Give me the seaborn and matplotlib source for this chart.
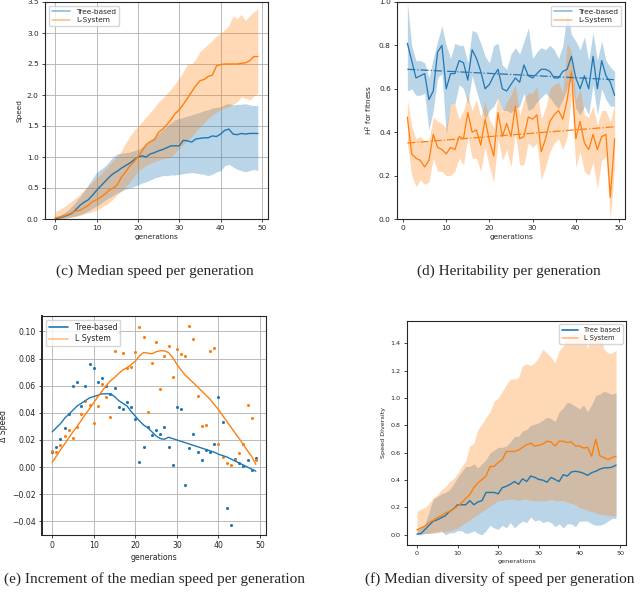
import numpy as np
import pandas as pd
import seaborn as sns
import matplotlib.pyplot as plt
from matplotlib.lines import Line2D

# ---- (c) median speed per generation ----
gens = list(range(50))
tree_speed_med = [0.00, 0.02, 0.04, 0.06, 0.09, 0.15, 0.22, 0.27, 0.31, 0.38, 0.46, 0.53, 0.60, 0.67, 0.73, 0.77,
                  0.82, 0.86, 0.90, 0.95, 1.00, 1.02, 1.00, 1.05, 1.07, 1.10, 1.12, 1.15, 1.18, 1.18, 1.18, 1.27,
                  1.26, 1.24, 1.29, 1.30, 1.31, 1.31, 1.34, 1.33, 1.37, 1.43, 1.45, 1.37, 1.36, 1.38, 1.37, 1.38,
                  1.38, 1.38]
tree_speed_hi = [0.02, 0.05, 0.09, 0.14, 0.20, 0.28, 0.36, 0.45, 0.55, 0.65, 0.75, 0.80, 0.85, 0.92, 1.00, 1.05,
                 1.06, 1.07, 1.08, 1.10, 1.12, 1.16, 1.20, 1.26, 1.32, 1.38, 1.44, 1.50, 1.55, 1.60, 1.62, 1.64,
                 1.66, 1.68, 1.70, 1.72, 1.75, 1.76, 1.79, 1.80, 1.81, 1.85, 1.86, 1.84, 1.85, 1.85, 1.86, 1.84,
                 1.83, 1.83]
tree_speed_lo = [0.00, 0.00, 0.01, 0.02, 0.03, 0.05, 0.07, 0.10, 0.13, 0.17, 0.21, 0.25, 0.30, 0.34, 0.38, 0.42,
                 0.45, 0.48, 0.50, 0.52, 0.55, 0.58, 0.60, 0.63, 0.66, 0.68, 0.70, 0.70, 0.71, 0.71, 0.72, 0.73,
                 0.74, 0.75, 0.74, 0.73, 0.72, 0.70, 0.72, 0.76, 0.78, 0.86, 0.88, 0.84, 0.80, 0.78, 0.76, 0.78,
                 0.80, 0.78]
lsys_speed_med = [0.02, 0.03, 0.05, 0.07, 0.10, 0.13, 0.14, 0.18, 0.22, 0.28, 0.31, 0.35, 0.40, 0.46, 0.50, 0.55,
                  0.67, 0.76, 0.85, 0.92, 1.00, 1.10, 1.20, 1.25, 1.28, 1.40, 1.45, 1.52, 1.60, 1.70, 1.76, 1.85,
                  1.95, 2.05, 2.15, 2.23, 2.25, 2.30, 2.32, 2.47, 2.49, 2.50, 2.50, 2.50, 2.50, 2.51, 2.52, 2.55,
                  2.62, 2.62]
lsys_speed_hi = [0.12, 0.15, 0.19, 0.24, 0.29, 0.34, 0.40, 0.47, 0.53, 0.60, 0.66, 0.72, 0.80, 0.87, 0.94, 1.00,
                 1.10, 1.22, 1.33, 1.42, 1.49, 1.57, 1.65, 1.72, 1.80, 1.89, 1.95, 2.02, 2.10, 2.18, 2.27, 2.38,
                 2.50, 2.50, 2.58, 2.70, 2.76, 2.82, 2.88, 2.95, 3.00, 3.05, 3.12, 3.28, 3.23, 3.30, 3.20, 3.28,
                 3.34, 3.39]
lsys_speed_lo = [0.00, 0.00, 0.01, 0.02, 0.03, 0.04, 0.06, 0.08, 0.10, 0.12, 0.14, 0.18, 0.22, 0.26, 0.32, 0.39,
                 0.45, 0.52, 0.59, 0.68, 0.77, 0.82, 0.87, 0.90, 0.93, 0.95, 0.97, 0.99, 1.00, 1.07, 1.14, 1.20,
                 1.27, 1.33, 1.41, 1.49, 1.55, 1.62, 1.68, 1.72, 1.76, 1.79, 1.81, 1.85, 1.89, 1.97, 1.95, 1.92,
                 1.98, 2.03]

# ---- (d) heritability per generation ----
her_gens = list(range(1, 50))
tree_her = [0.81, 0.73, 0.65, 0.66, 0.67, 0.55, 0.59, 0.77, 0.80, 0.60, 0.67, 0.67, 0.73, 0.72, 0.64, 0.78,
            0.74, 0.68, 0.60, 0.62, 0.66, 0.69, 0.60, 0.59, 0.62, 0.65, 0.63, 0.71, 0.66, 0.65, 0.67, 0.69,
            0.69, 0.68, 0.65, 0.65, 0.68, 0.69, 0.75, 0.65, 0.60, 0.66, 0.60, 0.75, 0.60, 0.73, 0.66, 0.63, 0.57]
tree_her_hi = [1.00, 0.80, 0.73, 0.73, 0.72, 0.65, 0.74, 0.82, 0.89, 0.80, 0.74, 0.81, 0.80, 0.80, 0.72, 0.87,
               0.86, 0.81, 0.75, 0.72, 0.80, 0.81, 0.71, 0.69, 0.76, 0.79, 0.76, 0.82, 0.88, 0.74, 0.77, 0.79,
               0.78, 0.80, 0.78, 0.74, 0.80, 0.95, 0.85, 0.82, 0.78, 0.84, 0.73, 0.86, 0.73, 0.82, 0.73, 0.70, 0.68]
tree_her_lo = [0.59, 0.60, 0.57, 0.57, 0.58, 0.41, 0.50, 0.65, 0.67, 0.39, 0.53, 0.53, 0.62, 0.60, 0.53, 0.66,
               0.59, 0.52, 0.46, 0.50, 0.52, 0.56, 0.50, 0.50, 0.49, 0.51, 0.52, 0.58, 0.50, 0.51, 0.54, 0.56,
               0.58, 0.56, 0.53, 0.51, 0.55, 0.60, 0.65, 0.51, 0.48, 0.52, 0.48, 0.62, 0.48, 0.60, 0.55, 0.52, 0.52]
lsys_her = [0.47, 0.30, 0.28, 0.27, 0.24, 0.27, 0.39, 0.33, 0.32, 0.30, 0.33, 0.32, 0.38, 0.37, 0.49, 0.40,
            0.41, 0.34, 0.46, 0.36, 0.29, 0.49, 0.38, 0.44, 0.38, 0.52, 0.37, 0.38, 0.47, 0.46, 0.48, 0.31,
            0.37, 0.45, 0.48, 0.50, 0.46, 0.55, 0.68, 0.37, 0.45, 0.35, 0.32, 0.39, 0.32, 0.38, 0.39, 0.10, 0.37]
lsys_her_hi = [0.55, 0.43, 0.37, 0.38, 0.36, 0.36, 0.47, 0.45, 0.44, 0.42, 0.53, 0.53, 0.46, 0.50, 0.57, 0.50,
               0.55, 0.47, 0.54, 0.46, 0.42, 0.57, 0.49, 0.54, 0.57, 0.62, 0.48, 0.55, 0.58, 0.58, 0.61, 0.46,
               0.51, 0.60, 0.62, 0.63, 0.58, 0.81, 0.77, 0.55, 0.60, 0.48, 0.47, 0.52, 0.43, 0.50, 0.50, 0.45, 0.53]
lsys_her_lo = [0.35, 0.20, 0.15, 0.18, 0.16, 0.17, 0.28, 0.22, 0.22, 0.20, 0.20, 0.22, 0.28, 0.25, 0.38, 0.28,
               0.28, 0.22, 0.33, 0.24, 0.17, 0.37, 0.27, 0.32, 0.24, 0.40, 0.25, 0.25, 0.35, 0.33, 0.35, 0.18,
               0.24, 0.31, 0.35, 0.37, 0.32, 0.38, 0.57, 0.24, 0.31, 0.22, 0.20, 0.26, 0.14, 0.27, 0.29, 0.00, 0.24]
trend_x = [1, 49]
tree_trend = [0.69, 0.642]
lsys_trend = [0.35, 0.425]

# ---- (e) increment of median speed ----
tree_delta = [0.011, 0.015, 0.021, 0.029, 0.039, 0.060, 0.063, 0.045, 0.060, 0.076, 0.073, 0.063, 0.066, 0.060,
              0.054, 0.0585, 0.044, 0.043, 0.048, 0.044, 0.0356, 0.0035, 0.015, 0.0296, 0.0235, 0.0277, 0.0244,
              0.0296, 0.015, 0.0012, 0.044, 0.0425, -0.013, 0.0143, 0.0244, 0.011, 0.0054, 0.0123, 0.011, 0.0173,
              0.052, 0.033, -0.030, -0.0427, 0.006, 0.003, 0.001, 0.0054, -0.0025, 0.0067]
lsys_delta = [0.0116, 0.011, 0.016, 0.0227, 0.0277, 0.0215, 0.0294, 0.039, 0.0486, 0.046, 0.0326, 0.045, 0.0615,
              0.0516, 0.037, 0.0852, 0.0993, 0.0844, 0.073, 0.074, 0.085, 0.103, 0.096, 0.0407, 0.0765, 0.092,
              0.0578, 0.0815, 0.089, 0.0667, 0.087, 0.0837, 0.082, 0.104, 0.0943, 0.0523, 0.030, 0.031, 0.0857,
              0.0874, 0.0168, 0.0074, 0.003, 0.0017, 0.0054, 0.0104, 0.0173, 0.046, 0.0363, 0.005]
tree_smooth = [0.026, 0.029, 0.032, 0.036, 0.039, 0.042, 0.045, 0.047, 0.049, 0.051, 0.052, 0.053, 0.054, 0.054,
               0.054, 0.052, 0.049, 0.047, 0.045, 0.041, 0.0375, 0.034, 0.031, 0.029, 0.026, 0.023, 0.021, 0.0205,
               0.022, 0.021, 0.020, 0.019, 0.018, 0.017, 0.016, 0.015, 0.014, 0.013, 0.012, 0.011, 0.0095, 0.0085,
               0.0075, 0.006, 0.0045, 0.003, 0.0015, 0.0, -0.0015, -0.003]
lsys_smooth = [0.0035, 0.008, 0.0128, 0.017, 0.0215, 0.026, 0.030, 0.0345, 0.039, 0.043, 0.0474, 0.052, 0.056,
               0.060, 0.0635, 0.066, 0.069, 0.0715, 0.0733, 0.0755, 0.078, 0.082, 0.0844, 0.084, 0.0835, 0.085,
               0.0857, 0.0857, 0.0844, 0.0807, 0.0758, 0.0716, 0.0677, 0.065, 0.062, 0.059, 0.056, 0.053, 0.050,
               0.046, 0.0425, 0.038, 0.0338, 0.0295, 0.0252, 0.021, 0.0165, 0.012, 0.008, 0.002]

# ---- (f) median diversity of speed ----
tree_div = [0.005, 0.01, 0.04, 0.07, 0.10, 0.11, 0.125, 0.14, 0.17, 0.19, 0.22, 0.22, 0.22, 0.25, 0.22, 0.24, 0.25,
            0.31, 0.31, 0.31, 0.30, 0.345, 0.355, 0.37, 0.39, 0.37, 0.41, 0.39, 0.43, 0.42, 0.405, 0.40, 0.385,
            0.42, 0.405, 0.39, 0.44, 0.43, 0.46, 0.465, 0.46, 0.45, 0.435, 0.455, 0.465, 0.48, 0.49, 0.49, 0.495,
            0.51]
tree_div_hi = [0.03, 0.05, 0.08, 0.17, 0.26, 0.28, 0.30, 0.31, 0.33, 0.37, 0.42, 0.46, 0.50, 0.50, 0.52, 0.49,
               0.52, 0.55, 0.60, 0.62, 0.64, 0.64, 0.65, 0.68, 0.72, 0.72, 0.76, 0.77, 0.80, 0.81, 0.82, 0.84,
               0.86, 0.85, 0.83, 0.90, 0.93, 0.97, 0.96, 0.94, 0.92, 0.95, 0.90, 0.95, 1.02, 1.03, 1.05, 1.04,
               1.03, 1.04]
tree_div_lo = [0.0, 0.0, 0.01, 0.01, 0.02, 0.02, 0.03, 0.0, 0.015, 0.015, 0.03, 0.03, 0.01, 0.015, 0.03, 0.01, 0.0,
               0.03, 0.07, 0.05, 0.04, 0.07, 0.05, 0.09, 0.05, 0.08, 0.10, 0.09, 0.13, 0.10, 0.11, 0.09, 0.10, 0.09,
               0.06, 0.08, 0.05, 0.08, 0.08, 0.06, 0.10, 0.10, 0.10, 0.08, 0.07, 0.07, 0.08, 0.10, 0.12, 0.12]
lsys_div = [0.035, 0.05, 0.065, 0.09, 0.105, 0.125, 0.14, 0.16, 0.17, 0.19, 0.21, 0.235, 0.265, 0.295, 0.345, 0.38,
            0.405, 0.43, 0.50, 0.50, 0.53, 0.55, 0.61, 0.61, 0.61, 0.62, 0.64, 0.66, 0.67, 0.65, 0.655, 0.665,
            0.685, 0.68, 0.65, 0.685, 0.685, 0.675, 0.68, 0.65, 0.65, 0.635, 0.64, 0.575, 0.70, 0.58, 0.565, 0.55,
            0.565, 0.575]
lsys_div_hi = [0.17, 0.19, 0.20, 0.23, 0.27, 0.29, 0.33, 0.35, 0.39, 0.41, 0.45, 0.50, 0.54, 0.65, 0.67, 0.77,
               0.81, 0.86, 0.90, 0.98, 1.00, 1.05, 1.10, 1.14, 1.14, 1.15, 1.24, 1.25, 1.24, 1.26, 1.30, 1.36,
               1.33, 1.30, 1.26, 1.35, 1.38, 1.44, 1.47, 1.47, 1.48, 1.47, 1.36, 1.49, 1.47, 1.47, 1.36, 1.33,
               1.33, 1.35]
lsys_div_lo = [0.01, 0.01, 0.01, 0.01, 0.01, 0.015, 0.02, 0.025, 0.03, 0.04, 0.05, 0.07, 0.09, 0.11, 0.13, 0.15,
               0.17, 0.19, 0.21, 0.23, 0.25, 0.25, 0.26, 0.26, 0.26, 0.25, 0.26, 0.26, 0.25, 0.25, 0.25, 0.25,
               0.25, 0.26, 0.25, 0.25, 0.25, 0.24, 0.23, 0.22, 0.20, 0.19, 0.18, 0.17, 0.16, 0.15, 0.15, 0.14,
               0.14, 0.14]

blue = "#1f77b4"
orange = "#ff7f0e"
tick_fs = 5.3

sns.set_style("ticks")
plt.rcParams['font.family'] = ['DejaVu Sans']

fig = plt.figure(figsize=(6.4, 5.96), dpi=100)


def place(l, t, r, b):
    return fig.add_axes([l / 640, 1 - b / 596, (r - l) / 640, (b - t) / 596])


def band(ax, x, med, lo, hi, color, lw=1.0):
    ax.fill_between(x, lo, hi, color=color, alpha=0.3, linewidth=0)
    sns.lineplot(x=x, y=med, ax=ax, color=color, linewidth=lw)


def style(ax, ylabel, fs=tick_fs, grid=True):
    ax.set_xlabel("generations", fontsize=fs, labelpad=2)
    ax.set_ylabel(ylabel, fontsize=fs, labelpad=3)
    ax.tick_params(labelsize=fs, length=2.5, width=0.6, pad=2)
    ax.set_xticks([0, 10, 20, 30, 40, 50])
    if grid:
        ax.grid(True, color="#b0b0b0", linewidth=0.6)
    for s in ax.spines.values():
        s.set_linewidth(0.8)


def legend(ax, labels, loc, alphas, fs=tick_fs):
    handles = [Line2D([], [], color=c, lw=1.2, alpha=a) for c, a in zip([blue, orange], alphas)]
    ax.legend(handles, labels, loc=loc, fontsize=fs, frameon=True, handlelength=2.5,
              borderpad=0.4, labelspacing=0.3, fancybox=True)


# (c)
ax_c = place(45, 2, 268, 219)
band(ax_c, gens, tree_speed_med, tree_speed_lo, tree_speed_hi, blue)
band(ax_c, gens, lsys_speed_med, lsys_speed_lo, lsys_speed_hi, orange)
ax_c.set_ylim(0, 3.5)
style(ax_c, "Speed")
legend(ax_c, ["Tree-based", "L-System"], "upper left", [0.5, 0.5])

# (d)
ax_d = place(397, 2, 625, 219)
band(ax_d, her_gens, tree_her, tree_her_lo, tree_her_hi, blue, lw=0.9)
band(ax_d, her_gens, lsys_her, lsys_her_lo, lsys_her_hi, orange, lw=0.9)
sns.lineplot(x=trend_x, y=tree_trend, ax=ax_d, color=blue, linestyle="-.", linewidth=0.9)
sns.lineplot(x=trend_x, y=lsys_trend, ax=ax_d, color=orange, linestyle="-.", linewidth=0.9)
ax_d.set_ylim(0, 1.0)
style(ax_d, "H$^2$ for fitness", grid=False)
legend(ax_d, ["Tree-based", "L-System"], "upper right", [0.5, 0.5])

# (e)
ax_e = place(42, 316, 266, 535)
sns.scatterplot(x=gens, y=tree_delta, ax=ax_e, color=blue, s=5, linewidth=0)
sns.scatterplot(x=gens, y=lsys_delta, ax=ax_e, color=orange, s=5, linewidth=0)
sns.lineplot(x=gens, y=tree_smooth, ax=ax_e, color=blue, linewidth=1.0)
sns.lineplot(x=gens, y=lsys_smooth, ax=ax_e, color=orange, linewidth=1.0)
style(ax_e, "Δ Speed", fs=5.6)
ax_e.set_yticks([-0.04, -0.02, 0.0, 0.02, 0.04, 0.06, 0.08, 0.10])
ax_e.spines["left"].set_linewidth(1.4)
legend(ax_e, ["Tree-based", "L System"], "upper left", [1.0, 0.5], fs=5.6)

# (f)
ax_f = place(407, 321, 626, 545)
band(ax_f, gens, tree_div, tree_div_lo, tree_div_hi, blue)
band(ax_f, gens, lsys_div, lsys_div_lo, lsys_div_hi, orange)
style(ax_f, "Speed Diversity", fs=4.6, grid=False)
ax_f.set_yticks([0.0, 0.2, 0.4, 0.6, 0.8, 1.0, 1.2, 1.4])
legend(ax_f, ["Tree based", "L System"], "upper right", [1.0, 0.5], fs=4.8)

# captions
cap = dict(ha="center", va="center", fontsize=11, family="Liberation Serif")
fig.text(155 / 640, 1 - 271 / 596, "(c) Median speed per generation", **cap)
fig.text(509 / 640, 1 - 271 / 596, "(d) Heritability per generation", **cap)
fig.text(155 / 640, 1 - 579 / 596, "(e) Increment of the median speed per generation", **cap)
fig.text(500 / 640, 1 - 579 / 596, "(f) Median diversity of speed per generation", **cap)

fig.savefig("out.png", dpi=100)
